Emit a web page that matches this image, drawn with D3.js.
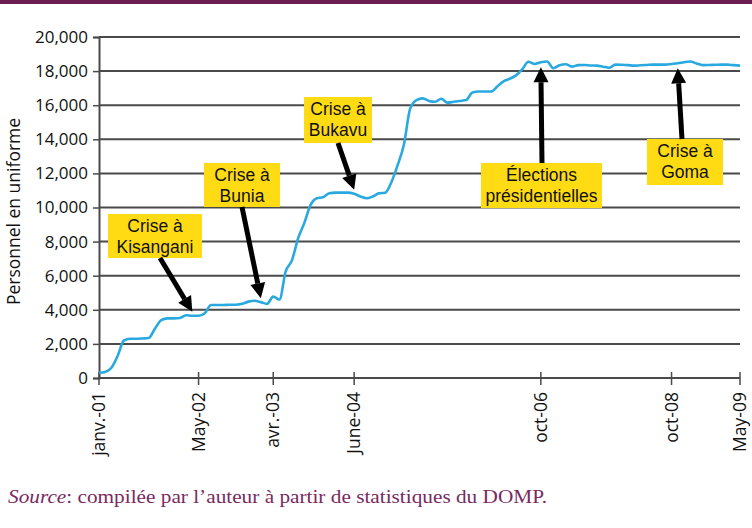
<!DOCTYPE html>
<html>
<head>
<meta charset="utf-8">
<script src="https://cdn.jsdelivr.net/npm/d3@7"></script>
<style>
  body { margin: 0; background: #fff; }
  .sans { font-family: "Open Sans", "Noto Sans", sans-serif; }
  .note { font-family: "Liberation Sans", Arial, sans-serif; }
  .serif { font-family: "Liberation Serif", "DejaVu Serif", serif; }
</style>
</head>
<body>
<svg id="chart" width="752" height="528"></svg>
<script>
// uniformed personnel, one value per sample
const personnel = [
  300, 350, 600, 1300, 2200, 2300, 2300, 2320, 2350, 2900,
  3400, 3500, 3500, 3520, 3680, 3650, 3650, 3800, 4280, 4280,
  4280, 4300, 4300, 4350, 4480, 4530, 4450, 4350, 4770, 4600,
  6250, 6900, 8200, 9100, 10150, 10540, 10600, 10830, 10870, 10870,
  10870, 10800, 10650, 10540, 10650, 10830, 10870, 11500, 12500, 13700,
  15800, 16300, 16400, 16250, 16200, 16380, 16150, 16200, 16250, 16300,
  16750, 16800, 16800, 16800, 17100, 17400, 17550, 17750, 18100, 18550,
  18420, 18520, 18560, 18170, 18350, 18400, 18260, 18350, 18360, 18330,
  18320, 18260, 18200, 18380, 18370, 18350, 18320, 18340, 18360, 18380,
  18380, 18380, 18420, 18460, 18520, 18560, 18450, 18350, 18360, 18370,
  18380, 18380, 18350, 18320
];

const xTickIndex = [0, 16, 28, 41, 71, 92, 103];
const xTickLabels = ["janv.-01", "May-02", "avr.-03", "June-04", "oct-06", "oct-08", "May-09"];
const yTicks = [0, 2000, 4000, 6000, 8000, 10000, 12000, 14000, 16000, 18000, 20000];

const noteLines = [["Crise à", "Kisangani"], ["Crise à", "Bunia"], ["Crise à", "Bukavu"],
                   ["Élections", "présidentielles"], ["Crise à", "Goma"]];
const noteIndex = [15, 26, 41, 71, 93];

// layout of the note boxes (pixels): left, top, width, height, arrow start x, direction
const noteBoxes = [
  { x: 108, y: 214, w: 94, h: 44, ax: 160, dir: "down" },
  { x: 204, y: 163, w: 76, h: 44, ax: 242, dir: "down" },
  { x: 304, y: 97, w: 68, h: 46, ax: 338, dir: "down" },
  { x: 481, y: 163, w: 121, h: 45, ax: 542, dir: "up" },
  { x: 647, y: 139, w: 76, h: 46, ax: 682, dir: "up" }
];

const svg = d3.select("#chart");
const plotLeft = 99, plotRight = 740, plotTop = 37, plotBottom = 378;

const x = d3.scaleLinear().domain([0, personnel.length - 1]).range([plotLeft, plotRight]);
const y = d3.scaleLinear().domain([0, 20000]).range([plotBottom, plotTop]);

// purple band on top
svg.append("rect").attr("x", 0).attr("y", 0).attr("width", 752).attr("height", 4).attr("fill", "#6b1d4f");

const gridColor = "#4a4a4a";

// horizontal grid
svg.append("g").selectAll("line")
  .data(yTicks)
  .enter().append("line")
  .attr("x1", plotLeft).attr("x2", plotRight)
  .attr("y1", d => y(d)).attr("y2", d => y(d))
  .attr("stroke", gridColor).attr("stroke-width", 2);

// y axis
const yAxis = svg.append("g")
  .attr("transform", `translate(${plotLeft},0)`)
  .call(d3.axisLeft(y).tickValues(yTicks).tickFormat(d3.format(",")).tickSize(6).tickPadding(5));
yAxis.attr("font-family", null).attr("font-size", null);
yAxis.select(".domain").attr("stroke", gridColor).attr("stroke-width", 2);
yAxis.selectAll(".tick line").attr("stroke", gridColor).attr("stroke-width", 1.5);
yAxis.selectAll("text").attr("class", "sans").style("font-size", "17px").attr("fill", "#111");

// x axis ticks (crossing the axis)
const xAxis = svg.append("g");
xAxis.selectAll("line")
  .data(xTickIndex)
  .enter().append("line")
  .attr("x1", d => x(d)).attr("x2", d => x(d))
  .attr("y1", plotBottom - 6).attr("y2", plotBottom + 7)
  .attr("stroke", gridColor).attr("stroke-width", 1.5);
xAxis.selectAll("text")
  .data(xTickIndex)
  .enter().append("text")
  .attr("class", "sans")
  .attr("transform", d => `translate(${x(d) + 6},${plotBottom + 14}) rotate(-90)`)
  .attr("text-anchor", "end")
  .style("font-size", "17.5px")
  .attr("fill", "#111")
  .text((d, i) => xTickLabels[i]);

// y axis title
svg.append("text")
  .attr("class", "sans")
  .attr("transform", `translate(20,${(plotTop + plotBottom) / 2 + 4}) rotate(-90)`)
  .attr("text-anchor", "middle")
  .style("font-size", "17.5px")
  .attr("fill", "#111")
  .text("Personnel en uniforme");

// the line
const line = d3.line()
  .x((d, i) => x(i))
  .y(d => y(d))
  .curve(d3.curveMonotoneX);

svg.append("path")
  .datum(personnel)
  .attr("d", line)
  .attr("fill", "none")
  .attr("stroke", "#2aa9e0")
  .attr("stroke-width", 2.6)
  .attr("stroke-linejoin", "round");

// notes with arrows
const notes = svg.append("g");
noteBoxes.forEach((b, k) => {
  const idx = noteIndex[k];
  const tipX = x(idx);
  const tipY = b.dir === "down" ? y(personnel[idx]) - 4 : y(personnel[idx]) + 5;
  const startX = b.ax;
  const startY = b.dir === "down" ? b.y + b.h : b.y;

  const g = notes.append("g");
  g.append("rect").attr("x", b.x).attr("y", b.y).attr("width", b.w).attr("height", b.h).attr("fill", "#ffdb14");
  g.selectAll("text")
    .data(noteLines[k])
    .enter().append("text")
    .attr("class", "note")
    .attr("x", b.x + b.w / 2)
    .attr("y", (d, i) => b.y + 18 + i * 20.5)
    .attr("text-anchor", "middle")
    .style("font-size", "17.5px")
    .attr("fill", "#111")
    .text(d => d);

  // arrow shaft + head
  const ang = Math.atan2(tipY - startY, tipX - startX);
  const headLen = 15, headW = 7.5;
  const baseX = tipX - headLen * Math.cos(ang), baseY = tipY - headLen * Math.sin(ang);
  g.append("line")
    .attr("x1", startX).attr("y1", startY)
    .attr("x2", baseX).attr("y2", baseY)
    .attr("stroke", "#000").attr("stroke-width", 5);
  const px = -Math.sin(ang), py = Math.cos(ang);
  g.append("path")
    .attr("d", `M${tipX},${tipY}L${baseX + px * headW},${baseY + py * headW}L${baseX - px * headW},${baseY - py * headW}Z`)
    .attr("fill", "#000");
});

// source line
const src = svg.append("text")
  .attr("class", "serif")
  .attr("x", 8).attr("y", 503)
  .style("font-size", "18px")
  .attr("fill", "#7a2a60")
  .attr("textLength", 539)
  .attr("lengthAdjust", "spacingAndGlyphs");
src.append("tspan").style("font-style", "italic").text("Source");
src.append("tspan").text(": compilée par l’auteur à partir de statistiques du DOMP.");
</script>
</body>
</html>
